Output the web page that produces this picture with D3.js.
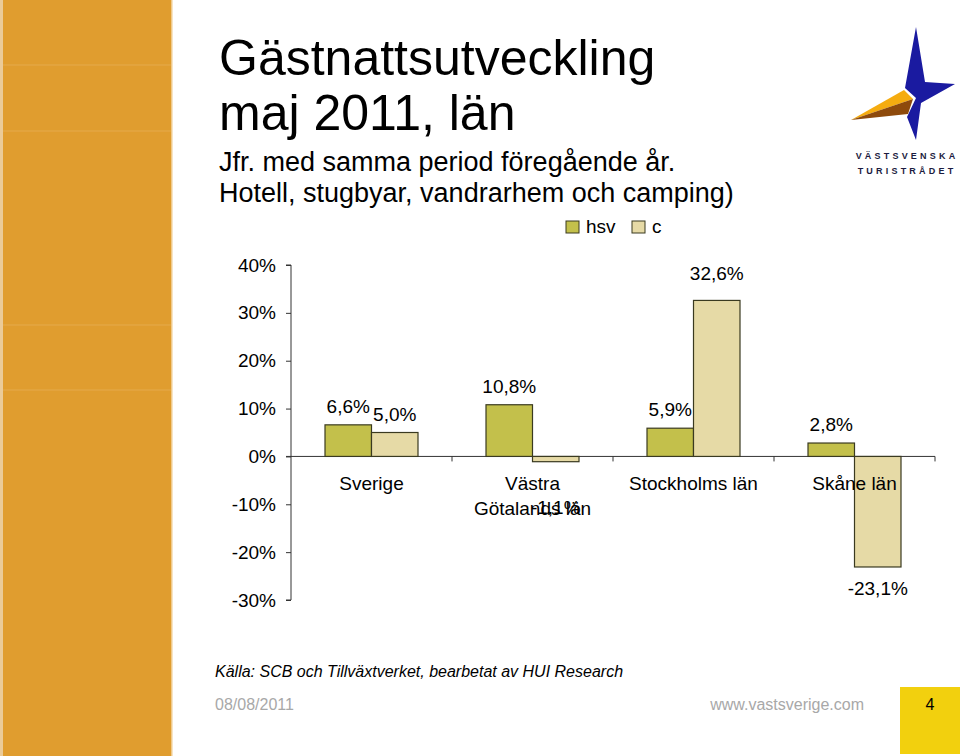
<!DOCTYPE html>
<html>
<head>
<meta charset="utf-8">
<script src="https://cdn.jsdelivr.net/npm/d3@7"></script>
<style>
  html, body { margin: 0; padding: 0; background: #fff; }
  svg { display: block; font-family: "Liberation Sans", Arial, sans-serif; }
</style>
</head>
<body>
<svg id="chart" width="960" height="756"></svg>
<script>
// ---- data ----
const categories = [["Sverige"], ["Västra", "Götalands län"], ["Stockholms län"], ["Skåne län"]];
const seriesNames = ["hsv", "c"];
const hsvValues = [6.6, 10.8, 5.9, 2.8];
const cValues = [5.0, -1.1, 32.6, -23.1];
const yTicks = [40, 30, 20, 10, 0, -10, -20, -30];
const seriesColors = ["#C3C04B", "#E6DAA6"];

const titleLines = ["Gästnattsutveckling", "maj 2011, län"];
const subtitleLines = ["Jfr. med samma period föregående år.", "Hotell, stugbyar, vandrarhem och camping)"];
const sourceText = "Källa: SCB och Tillväxtverket, bearbetat av HUI Research";
const dateText = "08/08/2011";
const urlText = "www.vastsverige.com";
const pageNumber = "4";

const svg = d3.select("#chart");

// ---- left decorative band ----
svg.append("rect").attr("x", 0).attr("y", 0).attr("width", 3).attr("height", 756).attr("fill", "#EBCB98");
svg.append("rect").attr("x", 3).attr("y", 0).attr("width", 168).attr("height", 756).attr("fill", "#E09D2F");
svg.append("rect").attr("x", 171).attr("y", 0).attr("width", 1.5).attr("height", 756).attr("fill", "#EFC98A");
[65, 131, 325, 390].forEach(yy => {
  svg.append("line").attr("x1", 3).attr("x2", 171).attr("y1", yy).attr("y2", yy)
    .attr("stroke", "#E5AA4C").attr("stroke-width", 1);
});

// ---- titles ----
const tg = svg.append("g");
titleLines.forEach((t, i) => {
  tg.append("text").attr("x", 219).attr("y", 75 + i * 55).attr("font-size", 50)
    .attr("fill", "#000").text(t);
});
subtitleLines.forEach((t, i) => {
  tg.append("text").attr("x", 219).attr("y", 171 + i * 31).attr("font-size", 27)
    .attr("fill", "#000").text(t);
});

// ---- logo ----
const logo = svg.append("g");
logo.append("path").attr("d", "M916,27 L925,82 L955,84 L921,103 L916,140 L907,117 L916,98 L905,88 Z").attr("fill", "#1A1AA0");
logo.append("path").attr("d", "M851,120 L904,90 L913,99 Z").attr("fill", "#F5AC10");
logo.append("path").attr("d", "M851,120 L913,99 L908,114 Z").attr("fill", "#8E4A0C");
logo.append("text").attr("x", 907).attr("y", 159).attr("text-anchor", "middle").attr("font-size", 9)
  .attr("font-weight", "bold").attr("letter-spacing", 3.2).attr("fill", "#1C1C40").text("VÄSTSVENSKA");
logo.append("text").attr("x", 907).attr("y", 174).attr("text-anchor", "middle").attr("font-size", 9)
  .attr("font-weight", "bold").attr("letter-spacing", 3.2).attr("fill", "#1C1C40").text("TURISTRÅDET");

// ---- chart ----
const y = d3.scaleLinear().domain([-30, 40]).range([600, 265]);
const x0 = d3.scaleBand().domain(d3.range(categories.length)).range([291, 935]).paddingInner(0).paddingOuter(0);
const groupW = 93;
const x1 = d3.scaleBand().domain(seriesNames).range([0, groupW]).padding(0);

// y axis
const yAxis = d3.axisLeft(y).tickValues(yTicks).tickSize(5).tickPadding(10).tickFormat(d => d + "%");
const gy = svg.append("g").attr("transform", "translate(291,0)").call(yAxis);
gy.select(".domain").attr("stroke", "#333").attr("d", `M-5,${y(40)}H0V${y(-30)}H-5`);
gy.selectAll(".tick line").attr("stroke", "#333");
gy.selectAll(".tick text").attr("font-size", 19).attr("fill", "#000")
  .attr("font-family", "Liberation Sans, Arial, sans-serif");

// x axis at zero
const gx = svg.append("g").attr("transform", `translate(0,${y(0)})`);
gx.append("line").attr("x1", x0.range()[0] - 5).attr("x2", x0.range()[1]).attr("y1", 0).attr("y2", 0).attr("stroke", "#333");
d3.range(categories.length + 1).forEach(i => {
  const xx = x0.range()[0] + i * x0.bandwidth();
  if (i > 0) gx.append("line").attr("x1", xx).attr("x2", xx).attr("y1", 0).attr("y2", 5).attr("stroke", "#333");
});

// bars
const data = [];
categories.forEach((c, i) => {
  data.push({ i, s: "hsv", v: hsvValues[i], color: seriesColors[0] });
  data.push({ i, s: "c", v: cValues[i], color: seriesColors[1] });
});
const bx = d => x0(d.i) + x0.bandwidth() / 2 - groupW / 2 + x1(d.s);
svg.append("g").selectAll("rect").data(data).join("rect")
  .attr("x", bx)
  .attr("y", d => y(Math.max(0, d.v)))
  .attr("width", x1.bandwidth())
  .attr("height", d => Math.abs(y(d.v) - y(0)))
  .attr("fill", d => d.color)
  .attr("stroke", "#3A3A20").attr("stroke-width", 1.2);

// category labels
categories.forEach((lines, i) => {
  const t = svg.append("text").attr("text-anchor", "middle").attr("font-size", 19).attr("fill", "#000");
  lines.forEach((ln, k) => {
    t.append("tspan").attr("x", x0(i) + x0.bandwidth() / 2).attr("y", y(0) + 34 + k * 25).text(ln);
  });
});

// value labels
const fmt = v => v.toFixed(1).replace(".", ",") + "%";
svg.append("g").selectAll("text").data(data).join("text")
  .attr("x", d => bx(d) + x1.bandwidth() / 2)
  .attr("y", d => d.v >= 0 ? y(d.v) - 12 - (d.v > 30 ? 8 : 0) : Math.max(y(d.v) + 28, y(0) + 58))
  .attr("text-anchor", "middle").attr("font-size", 19).attr("fill", "#000")
  .text(d => fmt(d.v));

// legend
const lg = svg.append("g").attr("transform", "translate(566,221)");
let lx = 0;
seriesNames.forEach((s, k) => {
  lg.append("rect").attr("x", lx).attr("y", 0).attr("width", 13).attr("height", 12)
    .attr("fill", seriesColors[k]).attr("stroke", "#3A3A20").attr("stroke-width", 1);
  lg.append("text").attr("x", lx + 20).attr("y", 12).attr("font-size", 19).attr("fill", "#000").text(s);
  lx += 66;
});

// footer
svg.append("text").attr("x", 215).attr("y", 677).attr("font-size", 16).attr("font-style", "italic")
  .attr("fill", "#000").text(sourceText);
svg.append("text").attr("x", 215).attr("y", 710).attr("font-size", 16).attr("fill", "#A8A8A8").text(dateText);
svg.append("text").attr("x", 864).attr("y", 710).attr("text-anchor", "end").attr("font-size", 16).attr("fill", "#A8A8A8").text(urlText);
svg.append("rect").attr("x", 900).attr("y", 687).attr("width", 60).attr("height", 67).attr("fill", "#F2D00E");
svg.append("text").attr("x", 930).attr("y", 710).attr("text-anchor", "middle").attr("font-size", 16).attr("fill", "#000").text(pageNumber);
</script>
</body>
</html>
